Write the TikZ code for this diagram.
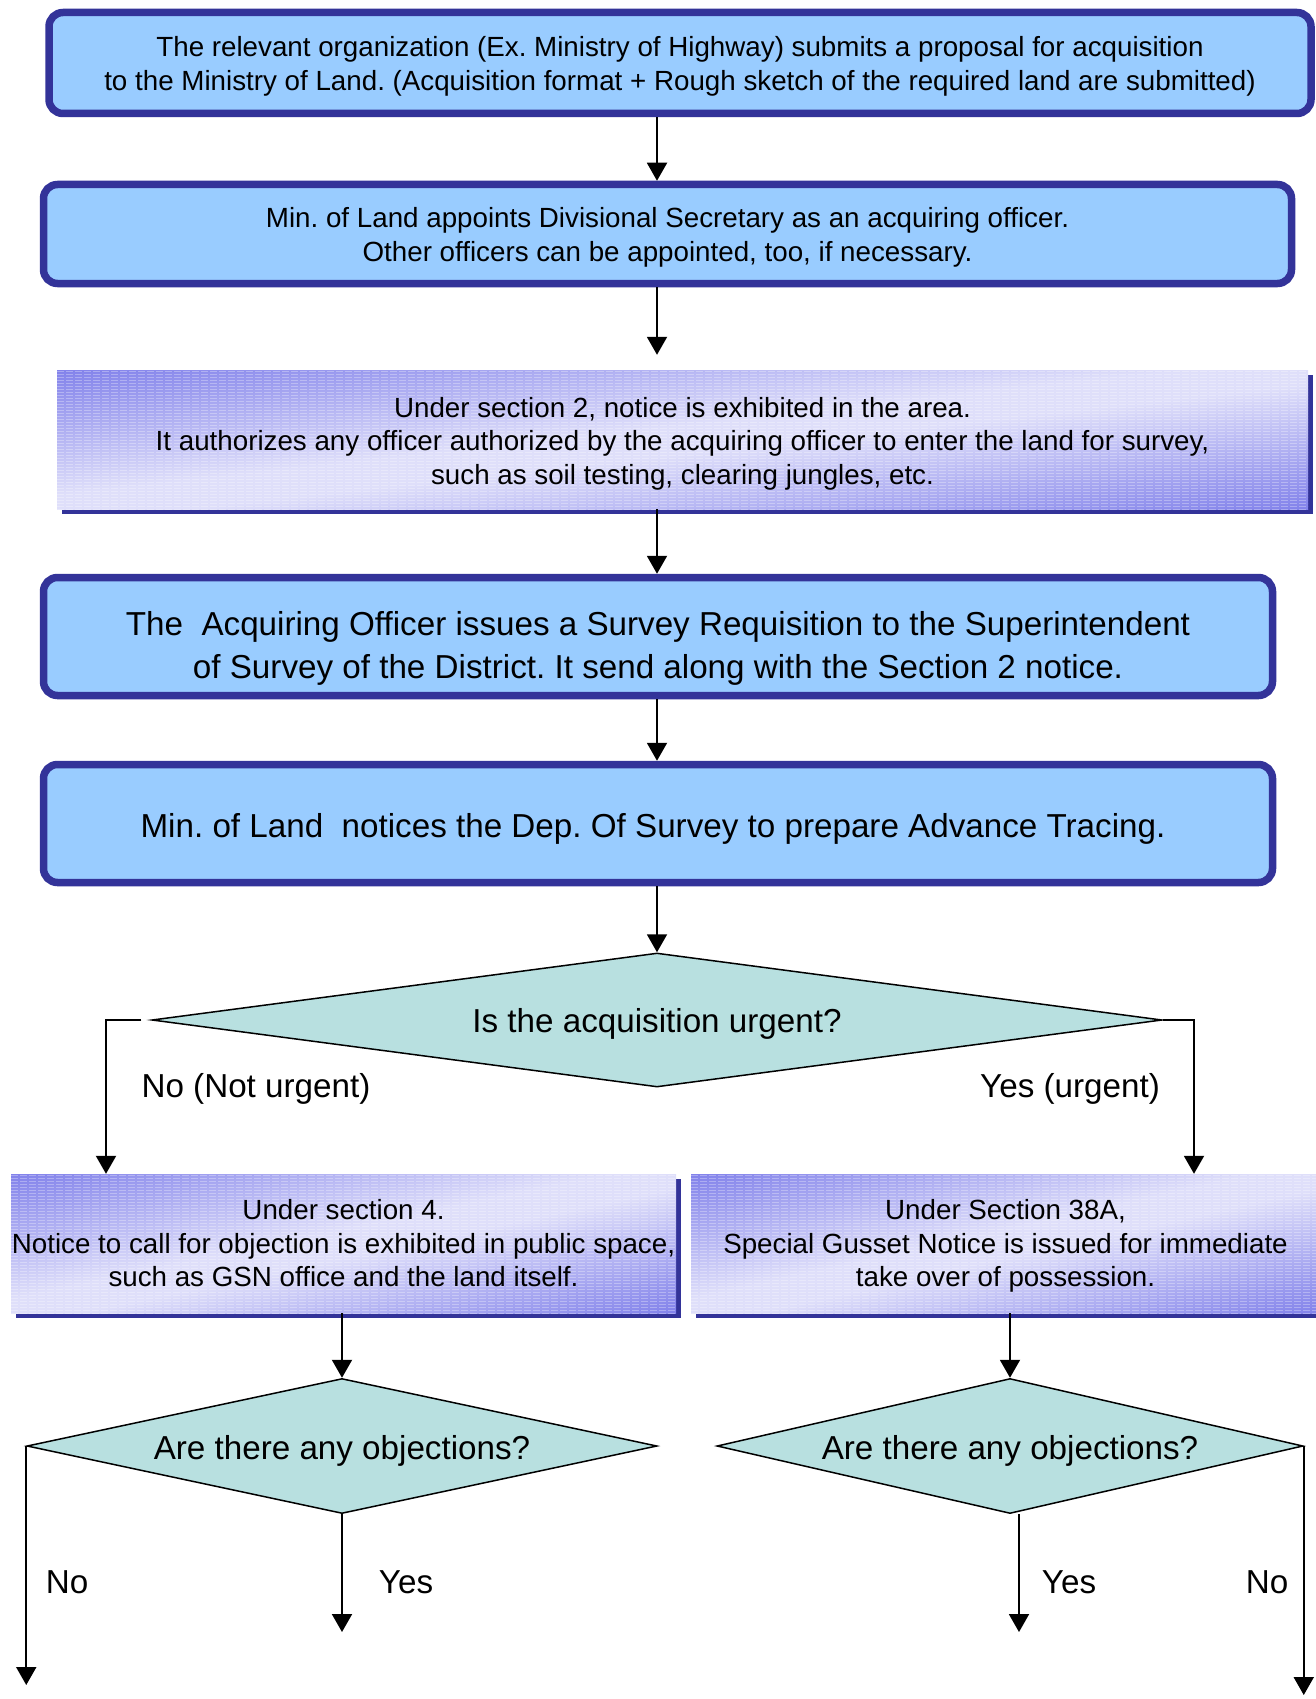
\documentclass[tikz,border=0pt]{standalone}
\usepackage{fontspec}
\setmainfont{Liberation Sans}
\usetikzlibrary{shapes.geometric,arrows.meta,shadows}
\definecolor{boxfill}{HTML}{99CCFF}
\definecolor{boxedge}{HTML}{333399}
\definecolor{decfill}{RGB}{184,224,224}
% diagonal fill of the notice boxes: deep lilac at the top-left and
% bottom-right corners, pale lavender along the other diagonal
\pgfdeclarefunctionalshading{notegrad}{\pgfpoint{0bp}{0bp}}{\pgfpoint{100bp}{100bp}}{}{
  50 sub 25 div exch 50 sub 25 div exch
  sub 2 div abs
  0.1 sub 0.9 div
  dup 0 lt {pop 0} if
  dup 1 gt {pop 1} if
  dup -0.365 mul 0.875 add exch
  dup -0.365 mul 0.875 add exch
  -0.06 mul 0.98 add
}
\frenchspacing
\begin{document}
\begin{tikzpicture}[x=1pt,y=-1pt,
  roundbox/.style={draw=boxedge, line width=7.5pt, fill=boxfill,
    rounded corners=14pt, inner sep=0pt, align=center},
  smalltext/.style={font=\fontsize{27.75}{33.5}\selectfont},
  bigtext/.style={font=\fontsize{33.2}{43}\selectfont},
  notebox/.style={inner sep=0pt, align=center,
    general shadow={fill=boxedge, shadow xshift=5pt, shadow yshift=-5pt},
    shading=notegrad,
    path picture={
      \foreach \k in {1.5,4.5,...,160}{
        \draw[white, opacity=0.3, line width=1pt, dash pattern=on 7pt off 2pt]
          ([yshift=-\k pt]path picture bounding box.north west) --
          ([yshift=-\k pt]path picture bounding box.north east);}}},
  decision/.style={diamond, draw=black, line width=1.5pt, fill=decfill, inner sep=0pt},
  arr/.style={line width=2pt, -{Triangle[width=20pt,length=18pt]}},
]
\useasboundingbox (0,0) rectangle (1316,1699);

% main column of process boxes
\node[roundbox, smalltext, minimum width=1262pt, minimum height=101pt] (b1) at (680,63)
  {\rule{0pt}{26.3pt}The relevant organization (Ex. Ministry of Highway) submits a proposal for acquisition\\
   to the Ministry of Land. (Acquisition format + Rough sketch of the required land are submitted)};
\node[roundbox, smalltext, minimum width=1248pt, minimum height=99pt] (b2) at (667.5,234)
  {\rule{0pt}{26.3pt}Min. of Land appoints Divisional Secretary as an acquiring officer.\\
   Other officers can be appointed, too, if necessary.};
\node[notebox, smalltext, minimum width=1251pt, minimum height=139pt] (b3) at (682.5,439.5)
  {\rule{0pt}{28.3pt}Under section 2, notice is exhibited in the area.\\
   It authorizes any officer authorized by the acquiring officer to enter the land for survey,\\
   such as soil testing, clearing jungles, etc.};
\node[roundbox, bigtext, minimum width=1229pt, minimum height=118pt] (b4) at (658,636.5)
  {\rule{0pt}{48.5pt}The~ Acquiring Officer issues a Survey Requisition to the Superintendent\\
   of Survey of the District. It send along with the Section 2 notice.};
\node[roundbox, bigtext, minimum width=1229pt, minimum height=118pt] (b5) at (658,823.5)
  {\rule{0pt}{34pt}Min. of Land~ notices the Dep. Of Survey to prepare Advance Tracing.\hspace*{10pt}};

% first decision and its two branches
\node[decision, bigtext, aspect=7.54, minimum width=1010pt, minimum height=134pt] (d1) at (657,1020)
  {\rule{0pt}{32pt}Is the acquisition urgent?};
\node[notebox, smalltext, minimum width=665pt, minimum height=139pt] (b6) at (343.5,1243.5)
  {Under section 4.\\
   Notice to call for objection is exhibited in public space,\\
   such as GSN office and the land itself.};
\node[notebox, smalltext, minimum width=629pt, minimum height=139pt] (b7) at (1005.5,1243.5)
  {\rule{0pt}{25pt}Under Section 38A,\\
   Special Gusset Notice is issued for immediate\\
   take over of possession.};
\node[decision, bigtext, aspect=4.67, minimum width=630pt, minimum height=135pt] (d2) at (342,1446)
  {\rule{0pt}{34pt}Are there any objections?};
\node[decision, bigtext, aspect=4.34, minimum width=586pt, minimum height=135pt] (d3) at (1010,1446)
  {\rule{0pt}{34pt}Are there any objections?};

% branch labels
\node[bigtext] (lno1) at (256,1089) {No (Not urgent)};
\node[bigtext] (lyes1) at (1070,1089) {Yes (urgent)};
\node[bigtext] (lno2) at (67,1582) {No};
\node[bigtext] (lyes2) at (406,1582) {Yes};
\node[bigtext] (lyes3) at (1069,1582) {Yes};
\node[bigtext] (lno3) at (1267,1582) {No};

% connectors
\coordinate (spine) at (657,0);
\coordinate (lturn) at (106,1020);
\coordinate (rturn) at (1194,1020);
\coordinate (endL) at (27,1685);
\coordinate (yesLend) at (342,1632);
\coordinate (yesRend) at (1019,1632);
\coordinate (endR) at (1303,1695);

\draw[arr] (b1.south -| spine) -- (b2.north -| spine);
\draw[arr, shorten >=15pt] (b2.south -| spine) -- (b3.north -| spine);
\draw[arr] (b3.south -| spine) -- (b4.north -| spine);
\draw[arr] (b4.south -| spine) -- (b5.north -| spine);
\draw[arr] (b5.south -| spine) -- (d1.north);
\draw[arr, shorten <=10pt] (d1.west) -- (lturn) -- (lturn |- b6.north);
\draw[arr] (d1.east) -- (rturn) -- (rturn |- b7.north);
\draw[arr] (b6.south -| d2.north) -- (d2.north);
\draw[arr] (b7.south -| d3.north) -- (d3.north);
\draw[arr] (d2.west) -- (d2.west |- endL);
\draw[arr] (d2.south) -- (yesLend);
\draw[arr] (d3.south -| yesRend) -- (yesRend);
\draw[arr] (d3.east) -- (d3.east |- endR);
\end{tikzpicture}
\end{document}
